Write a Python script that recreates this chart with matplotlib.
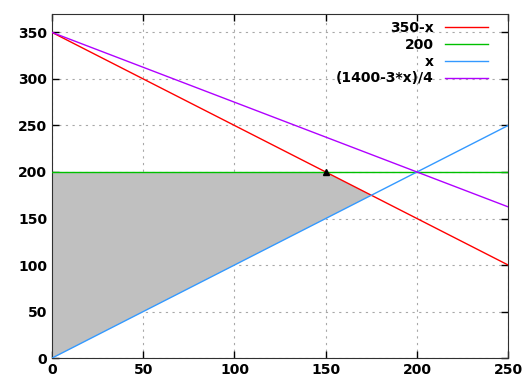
import matplotlib
matplotlib.use("Agg")
import matplotlib.pyplot as plt

# line endpoints (straight lines over x = 0..250)
x_ends = [0, 250]
line_labels = ["350-x", "200", "x", "(1400-3*x)/4"]
line_values = [[350, 100], [200, 200], [0, 250], [350, 162.5]]
line_colors = ["#ff0000", "#00c000", "#3399ff", "#b000ff"]

# feasible region
region_x = [0, 0, 150, 175]
region_y = [0, 200, 200, 175]

# optimum point
opt_x = [150]
opt_y = [200]

x_ticks = [0, 50, 100, 150, 200, 250]
y_ticks = [0, 50, 100, 150, 200, 250, 300, 350]

plt.rcParams["font.family"] = ["DejaVu Sans"]
fig = plt.figure(figsize=(5.25, 3.83), dpi=100)
ax = fig.add_axes([0.099, 0.065, 0.869, 0.899])

ax.fill(region_x, region_y, color="#c0c0c0", zorder=1, linewidth=0)
for lab, vals, col in zip(line_labels, line_values, line_colors):
    ax.plot(x_ends, vals, color=col, linewidth=1.0, label=lab, zorder=3)
ax.plot(opt_x, opt_y, marker="^", color="black", markersize=5, linestyle="none", zorder=4)

ax.set_xlim(0, 250)
ax.set_ylim(0, 370)
ax.set_xticks(x_ticks)
ax.set_yticks(y_ticks)
ax.tick_params(direction="in", top=True, right=True, length=5, width=1,
               labelsize=10)
for lbl in ax.get_xticklabels() + ax.get_yticklabels():
    lbl.set_fontweight("bold")
ax.grid(True, color="#a8a8a8", linestyle=(0, (2, 4)), linewidth=0.8, zorder=0)
ax.set_axisbelow(True)
for sp in ax.spines.values():
    sp.set_color("#303030")

leg = ax.legend(loc="upper right", frameon=False, markerfirst=False,
                handlelength=3.1, fontsize=10, borderaxespad=0.0,
                bbox_to_anchor=(0.968, 0.995),
                labelspacing=0.2, handletextpad=0.8)
for t in leg.get_texts():
    t.set_fontweight("bold")
    t.set_ha("right")
leg._legend_box.align = "right"

fig.savefig("out.png", dpi=100)
